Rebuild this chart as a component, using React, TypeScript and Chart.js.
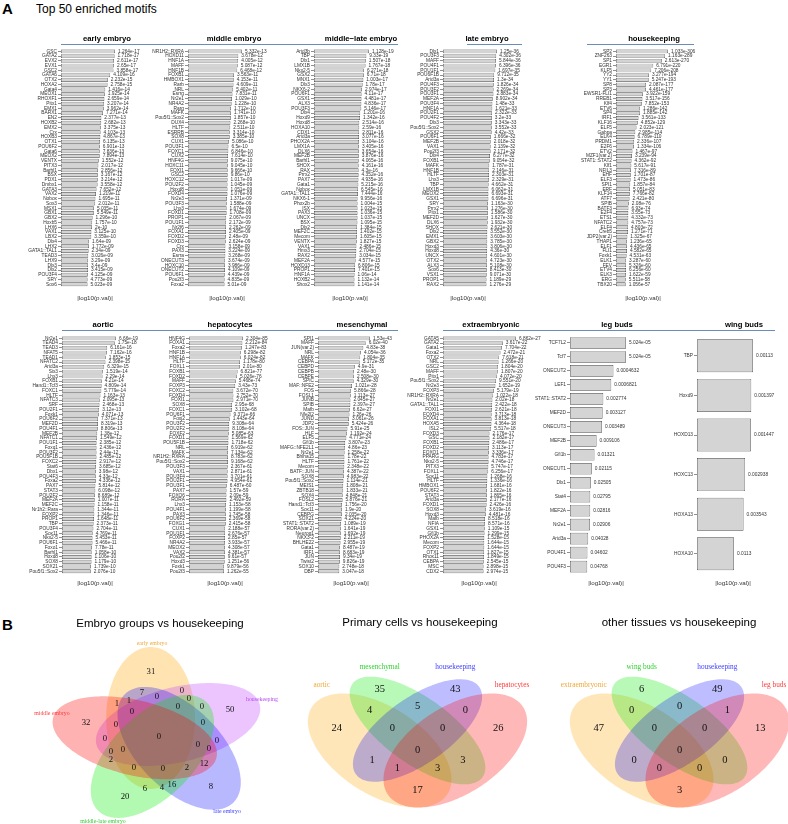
import React, { useEffect, useRef } from 'react';
import { Chart, registerables } from 'chart.js';

Chart.register(...registerables);

const SANS = "'Liberation Sans', Arial, Helvetica, sans-serif";
const SERIF = "'Liberation Serif', 'Times New Roman', Times, serif";

// ---------------- DATA: Top 50 enriched motifs (p-values) ----------------
const earlyLabels = ['GSC','GATA2','EVX2','EVX1','GSC2','GATA6','OTX2','HOXA2','Gata4','MEOX1','RHOXF1','Pitx1','EMX1','BARX1','EN2','HOXB2','EMX2','Crx','HOXB3','OTX1','POU6F2','Gata6','MEOX2','VENTX','PITX3','Barhl1','BSX','PDX1','Dmbx1','GATA3','VAX2','Nobox','Sox3','MSX1','GBX1','GBX2','Hoxb5','LHX6','VAX1','LBX2','Dlx4','LHX2','GATA1::TAL1','TEAD3','LHX9','Dlx3','Dlx2','POU3F4','SRY','Sox6'];
const earlyP = ['1.264e-17','1.718e-17','2.611e-17','2.65e-17','3.858e-17','4.109e-16','2.232e-15','2.758e-15','1.416e-14','1.925e-14','2.659e-14','3.207e-14','3.962e-14','7.271e-14','2.377e-13','2.682e-13','3.375e-13','4.103e-13','4.867e-13','6.135e-13','6.901e-13','7.836e-13','7.894e-13','1.552e-12','2.017e-12','2.856e-12','3.167e-12','3.214e-12','3.558e-12','7.652e-12','1.219e-11','1.695e-11','2.012e-11','5.035e-11','5.549e-11','1.296e-10','1.757e-10','2e-10','3.125e-10','3.359e-10','1.64e-09','1.772e-09','2.34e-09','3.026e-09','3.29e-09','3.4e-09','3.415e-09','4.125e-09','4.773e-09','5.023e-09'];

const middleLabels = ['NR1H2::RXRA','HOXD11','HNF1A','MAFF','HNF1B','FOXB1','HMBOX1','Rarb','NRL','Esrrg','Nr2e1','NR4A2','Rarg','MAFK','Pou5f1::Sox2','DUX4','HLTF','ESRRB','SOX8','CUX1','POU3F1','FOXC1','CUX2','HNF4G','HOXC11','FOXI1','GSC2','HOXC12','POU2F2','Hoxd8','FOXD4','Nr2e3','POU3F3','Lhx3','FOXD1','PROP1','POU1F1','Nr2f6','FOXA1','FOXD2','FOXD3','Crx','PAX3','Esrra','ONECUT3','HOXC10','ONECUT2','POU6F1','Pou2f3','Foxa2'];
const middleP = ['5.332e-13','3.678e-12','4.005e-12','5.087e-12','6.468e-12','3.563e-11','4.153e-11','4.609e-11','5.402e-11','7.831e-11','1.029e-10','1.228e-10','1.712e-10','1.741e-10','1.857e-10','2.268e-10','2.511e-10','3.314e-10','3.385e-10','5.086e-10','6.5e-10','6.846e-10','7.614e-10','9.075e-10','9.045e-10','9.666e-10','9.86e-10','1.017e-09','1.045e-09','1.051e-09','1.076e-09','1.371e-09','1.588e-09','1.674e-09','1.708e-09','2.067e-09','2.172e-09','2.262e-09','2.405e-09','2.48e-09','2.624e-09','3.158e-09','3.224e-09','3.268e-09','3.674e-09','3.986e-09','4.109e-09','4.439e-09','4.835e-09','5.01e-09'];

const midLateLabels = ['Arid3b','TBP','Dlx1','LMX1B','Nkx2-5','GSX2','MNX1','Dlx3','NKX6-2','POU6F1','GSX1','ALX3','POU3F3','Dlx4','Hoxd9','Hoxd8','HOXA10','CDX1','Arid3a','PHOX2A','LMX1A','DLX6','MEF2B','Barhl1','SHOX','RAX','Prrx2','PAX7','Gata1','Nobox','GATA1::TAL1','NKX6-1','Phox2b','ISX','PAX3','UNCX','BSX','Dlx2','MEF2C','Mecom','VENTX','VAX1','Hmx3','RAX2','MEF2A','HOXD13','PROP1','HNF1A','HOXB2','Shox2'];
const midLateP = ['1.128e-19','9.33e-19','1.507e-18','1.767e-18','6.271e-18','6.71e-18','1.003e-17','1.78e-17','2.974e-17','4.11e-17','4.481e-17','4.836e-17','5.146e-17','1.201e-16','1.342e-16','2.514e-16','2.59e-16','2.811e-16','3.077e-16','3.104e-16','3.405e-16','3.654e-16','3.876e-16','4.065e-16','4.161e-16','4.3e-16','4.352e-16','4.935e-16','5.215e-16','6.545e-16','7.444e-16','9.956e-16','1.004e-15','1.023e-15','1.036e-15','1.037e-15','1.095e-15','1.384e-15','1.402e-15','1.605e-15','1.827e-15','2.486e-15','2.704e-15','3.034e-15','4.577e-15','6.806e-15','7.401e-15','1.06e-14','1.132e-14','1.141e-14'];

const lateLabels = ['Dlx1','POU3F3','MAFF','POU4F1','POU1F1','POU6F1B','Arid3a','POU4F3','POU3F2','POU3F1','MEF2A','POU3F4','HNF1A','POU2F1','POU4F2','Dlx3','Pou5f1::Sox2','GSX2','POU6F1','MEF2B','VAX1','Pou2f3','Dlx4','FOXB1','MAFK','HNF1B','HLTF','Lhx3','TBP','LMX1B','MEOX2','GSX1','SRY','Prrx2','Pitx1','MEF2D','DLX6','SHOX','Dlx2','EMX1','GBX2','Hoxd3','Hoxd8','UNCX','OTX2','ALX3','Sox6','VSX1','PROP1','RAX2'];
const lateP = ['1.25e-36','4.302e-36','5.844e-36','6.396e-36','1.697e-35','9.712e-35','1.3e-34','1.826e-34','2.269e-34','2.883e-34','8.902e-34','1.48e-33','1.621e-33','2.322e-33','3.2e-33','3.343e-33','3.552e-33','4.42e-33','1.666e-32','2.018e-32','2.139e-32','2.171e-32','6.277e-32','9.054e-32','1.787e-31','2.146e-31','2.303e-31','2.329e-31','4.662e-31','6.062e-31','6.693e-31','6.696e-31','1.163e-30','1.276e-30','1.586e-30','1.627e-30','1.932e-30','2.621e-30','3.552e-30','3.603e-30','3.785e-30','3.806e-30','4.36e-30','4.601e-30','4.723e-30','5.108e-30','8.413e-30','9.071e-30','1.189e-29','1.276e-29'];

const hkLabels = ['SP2','ZNF263','SP1','EGR1','KLF5','YY2','YY1','SP8','SP3','EWSR1-FLI1','RREB1','Klf4','ETV6','SP4','IRF1','KLF16','ELF5','Gabpa','ELK4','PRDM1','E2F6','ETV2','MZF1(var.2)','STAT1::STAT2','Klf1','NFIL3','EHF','ELF3','SPI1','ERF','KLF14','ATF7','SPIB','BATF3','E2F4','ETS1','NFATC2','ELF4','Creb5','JDP2(var.2)','THAP1','ELF1','FLI1','Foxk1','ELK1','FEV','ETV4','ELK3','ERG','TBX20'];
const hkP = ['1.033e-306','1.163e-289','2.613e-270','6.791e-220','7.206e-208','3.277e-194','5.247e-193','2.087e-177','4.461e-177','3.922e-159','3.517e-156','7.852e-153','1.286e-142','1.885e-142','3.561e-133','4.852e-129','2.023e-121','2.985e-114','6.789e-110','2.336e-107','1.334e-106','1.467e-97','3.239e-94','4.362e-92','5.617e-91','7.316e-89','1.701e-87','1.473e-86','1.857e-84','5.051e-83','7.766e-82','2.421e-80','2.08e-76','6.93e-74','3.55e-73','4.332e-73','4.757e-73','4.803e-72','1.271e-71','1.325e-67','1.236e-65','4.436e-65','4.582e-65','4.531e-63','3.287e-60','5.326e-60','6.256e-60','1.622e-59','5.511e-58','1.056e-57'];

const aorticLabels = ['Nr2e1','TEAD4','TEAD3','NFAT5','TEAD1','NFATC2','Arid3a','Six3','Lhx3','FOXB1','Hand1::Tcf3','FOXC1','HLTF','NFATC3','SRF','POU2F1','Foxk1','POU6F2','MEF2D','POU4F1','MEF2B','NFATC1','POU1F1','Foxq1','POU3F2','POU5F1B','FOXC2','Stat6','Dbx1','POU4F3','Foxa2','PAX7','STAT3','POU2F2','MEF2A','MEF2C','Nr1h2::Rara','FOXP2','PROP1','TBP','POU3F4','Sox11','Nkx2-5','POU6F1','Foxo1','Barhl1','Hoxd8','SOX8','SOX21','Pou5f1::Sox2'];
const aorticP = ['6.66e-19','1.75e-18','6.161e-16','7.162e-16','1.853e-15','2.398e-15','6.329e-15','1.519e-14','2.29e-14','4.21e-14','4.809e-14','5.779e-14','1.163e-13','2.095e-13','2.468e-13','3.12e-13','4.071e-13','7.371e-13','8.319e-13','8.806e-13','1.38e-12','1.549e-12','2.385e-12','2.436e-12','2.44e-12','2.485e-12','2.917e-12','3.685e-12','3.98e-12','4.33e-12','4.336e-12','5.814e-12','6.098e-12','8.689e-12','1.007e-11','1.158e-11','1.344e-11','1.346e-11','1.648e-11','2.373e-11','2.704e-11','4.769e-11','5.453e-11','5.466e-11','7.78e-11','1.058e-10','1.106e-10','1.179e-10','1.739e-10','2.076e-10'];

const hepLabels = ['HNF4G','FOXA1','Foxa2','HNF1B','HNF1A','HLTF','FOXL1','FOXB1','FOXD2','MAFF','FOXP3','FOXC2','FOXD4','FOXI1','SOX8','FOXC1','POU6F1','Foxj2','POU3F2','POU2F2','FOXF2','FOXD1','POU5F1B','NRL','MAFK','NR1H2::RXRA','Pou5f1::Sox2','POU3F3','VAX1','POU3F4','POU2F1','POU3F1','PAX7','FOXO6','RORA','Lhx3','POU4F1','PAX3','POU6F2','FOXG1','CUX1','POU1F1','FOXP2','NR4A2','MEOX2','VAX2','Pou2f2','Hoxd3','Foxk1','Pou2f3'];
const hepP = ['2.304e-85','2.212e-84','1.247e-83','6.298e-82','6.024e-82','1.178e-80','2.01e-80','6.821e-77','5.026e-76','5.468e-74','3.43e-73','3.672e-70','2.752e-70','2.971e-70','2.95e-68','3.102e-68','9.371e-66','1.443e-64','9.308e-64','8.108e-64','5.085e-63','1.569e-62','1.718e-62','6.919e-62','7.134e-62','8.783e-62','9.168e-62','2.367e-61','2.871e-61','3.701e-61','4.954e-61','6.487e-60','1.57e-59','2.09e-59','2.492e-59','1.153e-58','1.199e-58','1.745e-58','2.369e-58','2.415e-58','2.188e-57','2.676e-57','2.85e-57','3.933e-57','4.308e-57','4.381e-57','9.61e-57','1.251e-56','9.879e-56','1.262e-55'];

const mesLabels = ['SPI1','MAFF','JUN(var.2)','NRL','MAFK','CEBPA','CEBPD','CEBPB','CEBPE','SPIC','MAF::NFE2','FOS','FOSL1','JUNB','SPIB','Mafb','Nfe2l2','JUND','JDP2','FOS::JUN','HLF','ELF5','Gfi1b','MAFG::NFE2L1','Nr2e1','Bhlha15','HLTF','Mecom','BATF::JUN','SOX8','Pou5f1::Sox2','MEIS1','ZBTB18','SOX4','FOSL2','Hand1::Tcf3','Sox11','CEBPG','SOX21','STAT1::STAT2','RORA(var.2)','Neurog1','NKX3-2','BHLHE22','Gata1','IRF1','JUN','Twist2','SOX10','DBP'];
const mesP = ['1.53e-43','6.02e-40','4.83e-38','4.054e-36','1.804e-35','5.172e-35','4.9e-31','2.48e-30','2.508e-30','4.329e-30','1.021e-28','5.866e-28','1.113e-27','2.045e-27','2.397e-27','6.62e-27','1.26e-26','3.061e-26','5.424e-26','5.91e-25','1.192e-24','4.771e-24','3.807e-23','4.86e-23','1.258e-22','1.78e-22','1.761e-22','2.348e-22','4.387e-22','4.983e-22','1.114e-21','1.808e-21','1.833e-21','4.848e-21','5.876e-21','1.756e-20','1.9e-20','2.035e-20','4.224e-20','1.089e-19','1.641e-19','1.692e-19','2.211e-19','2.955e-19','8.487e-19','8.683e-19','9.34e-19','9.826e-19','2.748e-18','3.047e-18'];

const extLabels = ['GATA5','GATA2','Gata1','Foxa2','OTX2','NRL','GSC2','MAFF','Pitx1','Pou5f1::Sox2','Nr2e3','FOXP3','NR1H2::RXRA','Nr2e1','GATA1::TAL1','FOXI1','FOXD4','FOXA1','HOXA5','ISL2','FOXD3','GSC','FOXB1','FOXD2','FOXO1','PPARG','Nkx2-5','PITX3','FOXL1','Sox11','HLTF','HMBOX1','POU6F2','STAT3','Arid3a','FOXD1','SOX8','Hoxd3','Mafb','NFIA','GSX1','Gfi1b','PHOX2A','Mecom','FOXP2','OTX1','Rhox11','CEBPA','MSC','CDX2'];
const extP = ['6.862e-27','3.617e-22','7.704e-22','2.472e-21','7.618e-21','1.266e-20','1.804e-20','1.807e-20','4.072e-20','9.551e-20','1.652e-19','5.179e-19','1.022e-18','2.02e-18','2.422e-18','2.621e-18','3.713e-18','3.813e-18','4.364e-18','5.517e-18','2.176e-17','2.182e-17','2.486e-17','3.113e-17','3.336e-17','4.783e-17','4.746e-17','5.747e-17','6.256e-17','1.268e-16','1.336e-16','1.681e-16','1.822e-16','1.865e-16','2.177e-16','2.426e-16','3.619e-16','4.481e-16','8.518e-16','8.571e-16','1.109e-15','1.299e-15','1.528e-15','1.644e-15','1.644e-15','1.827e-15','1.849e-15','2.545e-15','2.898e-15','2.974e-15'];

const legLabels = ['TCF7L2','Tcf7','ONECUT2','LEF1','STAT1::STAT2','MEF2D','ONECUT3','MEF2B','Gfi1b','ONECUT1','Dlx1','Stat4','MEF2A','Nr2e1','Arid3a','POU4F1','POU4F3'];
const legP = ['5.024e-05','5.024e-05','0.0004632','0.0006821','0.002774','0.003127','0.003489','0.009106','0.01321','0.02115','0.02505','0.02795','0.02816','0.02906','0.04028','0.04602','0.04768'];

const wingLabels = ['TBP','Hoxd9','HOXD13','HOXC13','HOXA13','HOXA10'];
const wingP = ['0.00113','0.001397','0.001447','0.002938','0.003543','0.0113'];

const axisTitle = '|log10(p.val)|';

// ---------------- DATA: Venn diagrams ----------------
const venn1Sets = ['early embryo', 'housekeeping', 'late embryo', 'middle-late embryo', 'middle embryo'];
const venn1Counts = [31, 50, 32, 20, 8, 7, 1, 1, 0, 0, 0, 0, 0, 0, 0, 0, 0, 0, 0, 0, 0, 0, 0, 2, 12, 0, 0, 2, 6, 4, 16];

const venn2Sets = ['aortic', 'mesenchymal', 'housekeeping', 'hepatocytes'];
const venn2Counts = [35, 43, 24, 26, 4, 5, 0, 0, 0, 0, 1, 3, 1, 3, 17];

const venn3Sets = ['extraembryonic', 'wing buds', 'housekeeping', 'leg buds'];
const venn3Counts = [6, 49, 47, 13, 0, 0, 1, 0, 0, 0, 0, 0, 0, 0, 3];

// ---------------- LAYOUT ----------------
const ROWS = [
  { canvasTop: 28, areaTop: 49, areaBottom: 286.7, canvasBottom: 306, titleY: 38.5, lineY: 44.5, axisPad: 4.0 },
  { canvasTop: 314, areaTop: 336, areaBottom: 573.6, canvasBottom: 592, titleY: 324.5, lineY: 330.5, axisPad: 4.5 },
];

const PANELS = [
  { title: 'early embryo', labels: earlyLabels, p: earlyP, row: 0, barStart: 61, barLen: 54, axisC: 95, titleC: 107, line: [61, 188] },
  { title: 'middle embryo', labels: middleLabels, p: middleP, row: 0, barStart: 188, barLen: 54, axisC: 227, titleC: 234, line: [188, 317] },
  { title: 'middle\u2212late embryo', labels: midLateLabels, p: midLateP, row: 0, barStart: 314, barLen: 55, axisC: 350, titleC: 361, line: [317, 398] },
  { title: 'late embryo', labels: lateLabels, p: lateP, row: 0, barStart: 443, barLen: 54, axisC: 468, titleC: 487, line: [467, 522] },
  { title: 'housekeeping', labels: hkLabels, p: hkP, row: 0, barStart: 616, barLen: 52, axisC: 643, titleC: 654, line: [587, 694] },
  { title: 'aortic', labels: aorticLabels, p: aorticP, row: 1, barStart: 62, barLen: 54, axisC: 95, titleC: 103, line: [62, 189] },
  { title: 'hepatocytes', labels: hepLabels, p: hepP, row: 1, barStart: 189, barLen: 54, axisC: 225, titleC: 230, line: [189, 318] },
  { title: 'mesenchymal', labels: mesLabels, p: mesP, row: 1, barStart: 318, barLen: 52, axisC: 351, titleC: 362, line: [318, 398] },
  { title: 'extraembryonic', labels: extLabels, p: extP, row: 1, barStart: 443, barLen: 73, axisC: 479, titleC: 491, line: [443, 565] },
  { title: 'leg buds', labels: legLabels, p: legP, row: 1, barStart: 570, barLen: 56, axisC: 606, titleC: 617, line: [565, 695] },
  { title: 'wing buds', labels: wingLabels, p: wingP, row: 1, barStart: 697, barLen: 56, axisC: 733, titleC: 744, line: [695, 775] },
];

const SMALL = 4.8;

function geom(c: any) {
  const R = ROWS[c.row];
  const areaW = 2 * (c.axisC - c.barStart);
  const areaRight = c.barStart + areaW;
  const left = Math.max(0, c.barStart - 64);
  const right = Math.min(788, Math.max(areaRight, c.barStart + c.barLen + 32, c.line[1], c.titleC + 40) + 2);
  return { R, areaW, areaRight, left, right, top: R.canvasTop, width: right - left, height: R.canvasBottom - R.canvasTop };
}

function makeValuePlugin(texts: string[]) {
  return {
    id: 'valueLabels',
    afterDatasetsDraw(chart: any) {
      const ctx = chart.ctx;
      const meta = chart.getDatasetMeta(0);
      ctx.save();
      ctx.font = `${SMALL}px ${SANS}`;
      ctx.fillStyle = '#333';
      ctx.textAlign = 'left';
      ctx.textBaseline = 'middle';
      meta.data.forEach((el: any, i: number) => ctx.fillText(texts[i], el.x + 3, el.y));
      ctx.restore();
    },
  };
}

function makeDecorPlugin(d: any) {
  return {
    id: 'panelDecor',
    afterDraw(chart: any) {
      const ctx = chart.ctx;
      ctx.save();
      ctx.strokeStyle = 'rgb(105,140,185)';
      ctx.lineWidth = 1.2;
      ctx.beginPath();
      ctx.moveTo(d.x0, d.lineY);
      ctx.lineTo(d.x1, d.lineY);
      ctx.stroke();
      ctx.fillStyle = '#000';
      ctx.font = `bold 7.7px ${SANS}`;
      ctx.textAlign = 'center';
      ctx.textBaseline = 'middle';
      ctx.fillText(d.text, d.tx, d.ty);
      ctx.restore();
    },
  };
}

function BarPanel({ c }: { c: any }) {
  const ref = useRef<HTMLCanvasElement | null>(null);
  const g = geom(c);
  useEffect(() => {
    if (!ref.current) return;
    const vals = c.p.map((s: string) => -Math.log10(Number(s)));
    const maxV = Math.max(...vals);
    const xMax = (maxV * g.areaW) / c.barLen;
    const R = g.R;
    const chart = new Chart(ref.current, {
      type: 'bar',
      data: {
        labels: c.labels,
        datasets: [
          {
            data: vals,
            backgroundColor: '#d4d4d4',
            borderColor: '#4a4a4a',
            borderWidth: 0.7,
            borderSkipped: false,
            barPercentage: 0.833,
            categoryPercentage: 1,
            clip: false,
          } as any,
        ],
      },
      options: {
        indexAxis: 'y',
        responsive: false,
        animation: false,
        devicePixelRatio: 1,
        events: [],
        layout: {
          padding: { top: R.areaTop - R.canvasTop, right: g.right - g.areaRight, bottom: 0, left: 0 },
          autoPadding: false,
        } as any,
        plugins: { legend: { display: false }, tooltip: { enabled: false }, title: { display: false } },
        scales: {
          x: {
            type: 'linear',
            position: 'bottom',
            min: 0,
            max: xMax,
            grid: { display: false },
            border: { display: false },
            ticks: { display: false },
            title: {
              display: true,
              text: axisTitle,
              color: '#333',
              font: { family: SANS, size: 6.2 },
              padding: { top: 0, bottom: R.axisPad },
            },
            afterFit: (s: any) => {
              s.height = R.canvasBottom - R.areaBottom;
            },
          },
          y: {
            type: 'category',
            position: 'left',
            border: { display: false },
            grid: {
              display: true,
              drawOnChartArea: false,
              drawTicks: true,
              tickLength: 3,
              offset: false,
              color: '#444',
              lineWidth: 0.6,
            },
            ticks: { autoSkip: false, color: '#333', padding: 1, font: { family: SANS, size: SMALL } },
            afterFit: (s: any) => {
              s.width = c.barStart - g.left;
            },
          },
        },
      } as any,
      plugins: [
        makeValuePlugin(c.p),
        makeDecorPlugin({
          text: c.title,
          tx: c.titleC - g.left,
          ty: R.titleY - R.canvasTop,
          x0: c.line[0] - g.left,
          x1: c.line[1] - g.left,
          lineY: R.lineY - R.canvasTop,
        }),
      ],
    });
    return () => chart.destroy();
  }, [c]);
  return (
    <canvas
      ref={ref}
      width={g.width}
      height={g.height}
      style={{ position: 'absolute', left: g.left, top: g.top, width: g.width, height: g.height }}
    />
  );
}

// ---- Venn layouts (positions in diagram units) ----
const venn1Ellipses = [
  { cx: -0.07, cy: 0.19, rx: 0.71, ry: 0.37, rot: 90 },
  { cx: 0.159, cy: 0.125, rx: 0.71, ry: 0.37, rot: 18 },
  { cx: 0.168, cy: -0.113, rx: 0.71, ry: 0.37, rot: -54 },
  { cx: -0.055, cy: -0.195, rx: 0.71, ry: 0.37, rot: -126 },
  { cx: -0.202, cy: -0.008, rx: 0.71, ry: 0.37, rot: 162 },
];
const venn1Pos = [
  [-0.067, 0.65], [0.592, 0.27], [-0.608, 0.14], [-0.283, -0.6], [0.433, -0.5],
  [-0.142, 0.44], [-0.35, 0.33], [-0.25, 0.36], [-0.017, 0.4], [0.192, 0.46],
  [0.25, 0.38], [0.158, 0.3], [0.358, 0.3], [-0.225, 0.25], [-0.358, 0.12],
  [0.367, 0.14], [0.0, 0.0], [-0.45, -0.02], [0.325, -0.08], [0.483, -0.04],
  [0.417, -0.12], [-0.4, -0.15], [-0.3, -0.13], [-0.4, -0.23], [0.375, -0.27],
  [-0.208, -0.31], [0.033, -0.32], [0.233, -0.31], [-0.117, -0.52], [0.025, -0.51],
  [0.108, -0.48],
];
const venn1SetPos = [[-0.058, 0.94], [0.858, 0.38], [0.567, -0.74], [-0.467, -0.84], [-0.892, 0.24]];
const venn1Fills = ['rgba(255,165,0,0.3)', 'rgba(191,62,255,0.3)', 'rgba(0,0,255,0.28)', 'rgba(0,235,0,0.3)', 'rgba(255,0,0,0.3)'];
const venn1TextCols = ['#f0a838', '#b44cf0', '#4040ff', '#30d030', '#ff3a3a'];

const quadEllipses = [
  { cx: 0.35, cy: 0.47, rx: 0.35, ry: 0.2, rot: 135 },
  { cx: 0.5, cy: 0.57, rx: 0.35, ry: 0.15, rot: 135 },
  { cx: 0.5, cy: 0.57, rx: 0.33, ry: 0.15, rot: 45 },
  { cx: 0.65, cy: 0.47, rx: 0.35, ry: 0.2, rot: 45 },
];
const quadPos = [
  [0.35, 0.775], [0.65, 0.775], [0.18, 0.58], [0.82, 0.58], [0.31, 0.67],
  [0.5, 0.69], [0.69, 0.67], [0.4, 0.58], [0.6, 0.58], [0.5, 0.47],
  [0.32, 0.42], [0.68, 0.42], [0.42, 0.38], [0.58, 0.38], [0.5, 0.27],
];
const quadSetPos = [[0.12, 0.795], [0.35, 0.885], [0.65, 0.885], [0.875, 0.795]];
const quadFills = ['rgba(255,165,0,0.28)', 'rgba(0,235,0,0.28)', 'rgba(0,0,255,0.26)', 'rgba(255,0,0,0.28)'];
const quadTextCols = ['#f0a838', '#30d030', '#4040ff', '#ff3a3a'];

const VENNS = [
  {
    title: 'Embryo groups vs housekeeping', sets: venn1Sets, counts: venn1Counts, pos: venn1Pos, setPos: venn1SetPos,
    ellipses: venn1Ellipses, fills: venn1Fills, textCols: venn1TextCols,
    left: 0, top: 610, width: 292, height: 214, xMin: -159 / 120, xMax: (292 - 159) / 120, yMin: (737 - 824) / 100, yMax: (737 - 610) / 100,
    titleX: 160, titleY: 14, countSize: 8.7, setSize: 5.8,
  },
  {
    title: 'Primary cells vs housekeeping', sets: venn2Sets, counts: venn2Counts, pos: quadPos, setPos: quadSetPos,
    ellipses: quadEllipses, fills: quadFills, textCols: quadTextCols,
    left: 288, top: 610, width: 260, height: 214, xMin: (288 - 291.5) / 252, xMax: (548 - 291.5) / 252, yMin: (844.5 - 824) / 200, yMax: (844.5 - 610) / 200,
    titleX: 132, titleY: 12.5, countSize: 10.5, setSize: 7.3,
  },
  {
    title: 'other tissues vs housekeeping', sets: venn3Sets, counts: venn3Counts, pos: quadPos, setPos: quadSetPos,
    ellipses: quadEllipses, fills: quadFills, textCols: quadTextCols,
    left: 550, top: 610, width: 238, height: 214, xMin: (550 - 553.5) / 252, xMax: (788 - 553.5) / 252, yMin: (844.5 - 824) / 200, yMax: (844.5 - 610) / 200,
    titleX: 129, titleY: 12.5, countSize: 10.5, setSize: 7.3,
  },
];

function makeVennPlugin(v: any) {
  return {
    id: 'venn',
    beforeDatasetsDraw(chart: any) {
      const { ctx } = chart;
      const xs = chart.scales.x;
      const ys = chart.scales.y;
      ctx.save();
      v.ellipses.forEach((e: any, i: number) => {
        const r = (e.rot * Math.PI) / 180;
        ctx.beginPath();
        const N = 180;
        for (let k = 0; k <= N; k++) {
          const t = (k / N) * Math.PI * 2;
          const lx = e.rx * Math.cos(t);
          const ly = e.ry * Math.sin(t);
          const ux = e.cx + lx * Math.cos(r) - ly * Math.sin(r);
          const uy = e.cy + lx * Math.sin(r) + ly * Math.cos(r);
          const px = xs.getPixelForValue(ux);
          const py = ys.getPixelForValue(uy);
          if (k === 0) ctx.moveTo(px, py);
          else ctx.lineTo(px, py);
        }
        ctx.closePath();
        ctx.fillStyle = v.fills[i];
        ctx.fill();
      });
      ctx.restore();
    },
    afterDatasetsDraw(chart: any) {
      const { ctx } = chart;
      const xs = chart.scales.x;
      const ys = chart.scales.y;
      const meta = chart.getDatasetMeta(0);
      ctx.save();
      ctx.textAlign = 'center';
      ctx.textBaseline = 'middle';
      ctx.fillStyle = '#111';
      ctx.font = `${v.countSize}px ${SERIF}`;
      meta.data.forEach((el: any, i: number) => ctx.fillText(String(v.counts[i]), el.x, el.y));
      ctx.font = `${v.setSize}px ${SERIF}`;
      v.sets.forEach((s: string, i: number) => {
        ctx.fillStyle = v.textCols[i];
        ctx.fillText(s, xs.getPixelForValue(v.setPos[i][0]), ys.getPixelForValue(v.setPos[i][1]));
      });
      ctx.fillStyle = '#000';
      ctx.font = `11.5px ${SANS}`;
      ctx.fillText(v.title, v.titleX, v.titleY);
      ctx.restore();
    },
  };
}

function VennPanel({ v }: { v: any }) {
  const ref = useRef<HTMLCanvasElement | null>(null);
  useEffect(() => {
    if (!ref.current) return;
    const chart = new Chart(ref.current, {
      type: 'scatter',
      data: {
        datasets: [
          {
            data: v.pos.map((p: number[]) => ({ x: p[0], y: p[1] })),
            pointRadius: 0,
            pointHoverRadius: 0,
            showLine: false,
          },
        ],
      },
      options: {
        responsive: false,
        animation: false,
        devicePixelRatio: 1,
        events: [],
        layout: { padding: 0, autoPadding: false } as any,
        plugins: { legend: { display: false }, tooltip: { enabled: false } },
        scales: {
          x: { type: 'linear', min: v.xMin, max: v.xMax, display: false },
          y: { type: 'linear', min: v.yMin, max: v.yMax, display: false },
        },
      } as any,
      plugins: [makeVennPlugin(v)],
    });
    return () => chart.destroy();
  }, [v]);
  return (
    <canvas
      ref={ref}
      width={v.width}
      height={v.height}
      style={{ position: 'absolute', left: v.left, top: v.top, width: v.width, height: v.height }}
    />
  );
}

export default function App() {
  return (
    <div style={{ position: 'absolute', left: 0, top: 0, width: 788, height: 824, background: '#fff', overflow: 'hidden' }}>
      <div style={{ position: 'absolute', left: 2, top: 0, font: `bold 15px ${SANS}`, lineHeight: '17px', color: '#000' }}>A</div>
      <div style={{ position: 'absolute', left: 36, top: 2, font: `12px ${SANS}`, lineHeight: '14px', color: '#000', whiteSpace: 'nowrap' }}>
        Top 50 enriched motifs
      </div>
      <div style={{ position: 'absolute', left: 2, top: 616, font: `bold 15px ${SANS}`, lineHeight: '17px', color: '#000' }}>B</div>
      {PANELS.map((c) => (
        <BarPanel key={c.title} c={c} />
      ))}
      {VENNS.map((v) => (
        <VennPanel key={v.title} v={v} />
      ))}
    </div>
  );
}
